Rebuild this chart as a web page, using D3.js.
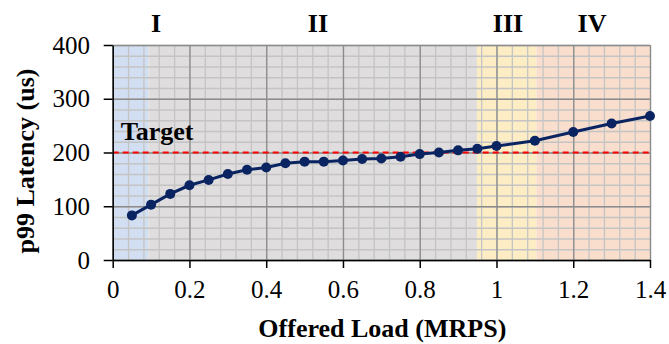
<!DOCTYPE html>
<html>
<head>
<meta charset="utf-8">
<script src="https://cdn.jsdelivr.net/npm/d3@7"></script>
</head>
<body style="margin:0;background:#fff">
<svg id="svg1" width="669" height="344"></svg>
<script>
// offered load (MRPS) and p99 latency (us)
var loads = [0.05, 0.1, 0.15, 0.2, 0.25, 0.3, 0.35, 0.4, 0.45, 0.5, 0.55, 0.6, 0.65, 0.7, 0.75, 0.8, 0.85, 0.9, 0.95, 1.0, 1.1, 1.2, 1.3, 1.4];
var latency = [83, 103, 123, 139, 149, 160, 168, 172, 180, 183, 183, 185, 188, 189, 192, 197, 200, 204, 207, 212, 222, 238, 254, 268];
var regionNames = ["I", "II", "III", "IV"];
var regionStart = [0, 0.093, 0.949, 1.104];
var regionEnd = [0.093, 0.949, 1.104, 1.4];
var regionColors = ["#d2def2", "#dfdddd", "#fdedc4", "#f9decd"];
var xTicks = [0, 0.2, 0.4, 0.6, 0.8, 1, 1.2, 1.4];
var yTicks = [0, 100, 200, 300, 400];
var target = 200;

var FONT = "'Liberation Serif'";

var margin = {left: 112.7, top: 45, right: 19, bottom: 84};
var width = 669 - margin.left - margin.right;
var height = 344 - margin.top - margin.bottom;

var x = d3.scaleLinear().domain([0, 1.4]).range([0, width]);
var y = d3.scaleLinear().domain([0, 400]).range([height, 0]);

var svg = d3.select("#svg1").append("g")
    .attr("transform", "translate(" + margin.left + "," + margin.top + ")");

// shaded regions
svg.selectAll(".region").data(regionNames).enter().append("rect")
    .attr("x", (d, i) => x(regionStart[i]))
    .attr("y", 0)
    .attr("width", (d, i) => x(regionEnd[i]) - x(regionStart[i]))
    .attr("height", height)
    .attr("fill", (d, i) => regionColors[i]);

svg.selectAll(".region-label").data(regionNames).enter().append("text")
    .attr("x", (d, i) => [43.3, 205.3, 395.3, 479.3][i])
    .attr("y", -12.7)
    .attr("text-anchor", "middle")
    .style("font-family", FONT)
    .style("font-size", "26px")
    .style("font-weight", "bold")
    .text(d => d);

// minor grid
svg.append("g")
    .call(d3.axisBottom(x).tickValues(d3.range(0, 1.4001, 0.04)).tickSize(-height).tickFormat(""))
    .attr("transform", "translate(0," + height + ")")
    .call(g => g.select(".domain").remove())
    .call(g => g.selectAll("line").attr("stroke", "#c4c4c4").attr("stroke-width", 1.3));
svg.append("g")
    .call(d3.axisLeft(y).tickValues(d3.range(0, 401, 20)).tickSize(-width).tickFormat(""))
    .call(g => g.select(".domain").remove())
    .call(g => g.selectAll("line").attr("stroke", "#c4c4c4").attr("stroke-width", 1.3));

// major grid
svg.append("g")
    .call(d3.axisBottom(x).tickValues(xTicks).tickSize(-height).tickFormat(""))
    .attr("transform", "translate(0," + height + ")")
    .call(g => g.select(".domain").remove())
    .call(g => g.selectAll("line").attr("stroke", "#8c8c8c").attr("stroke-width", 1.3));
svg.append("g")
    .call(d3.axisLeft(y).tickValues(yTicks).tickSize(-width).tickFormat(""))
    .call(g => g.select(".domain").remove())
    .call(g => g.selectAll("line").attr("stroke", "#8c8c8c").attr("stroke-width", 1.3));

// target line
svg.append("line")
    .attr("x1", 0).attr("x2", width)
    .attr("y1", y(target)).attr("y2", y(target))
    .attr("stroke", "#ff0000")
    .attr("stroke-width", 2)
    .attr("stroke-dasharray", "6,4");
svg.append("text")
    .attr("x", 8)
    .attr("y", y(target) - 13)
    .style("font-family", FONT)
    .style("font-size", "26px")
    .style("font-weight", "bold")
    .text("Target");

// axes
svg.append("g")
    .attr("transform", "translate(0," + height + ")")
    .call(d3.axisBottom(x).tickValues(xTicks).tickSize(8).tickSizeOuter(0).tickPadding(12).tickFormat(d3.format("~g")))
    .attr("font-family", FONT)
    .call(g => g.selectAll("line").attr("stroke", "#000").attr("stroke-width", 1.5))
    .call(g => g.select(".domain").attr("stroke", "#000").attr("stroke-width", 1.5))
    .call(g => g.selectAll("text").style("font-family", FONT).style("font-size", "25px").attr("fill", "#000"));
svg.append("g")
    .call(d3.axisLeft(y).tickValues(yTicks).tickSize(9).tickSizeOuter(0).tickPadding(13.7))
    .attr("font-family", FONT)
    .call(g => g.select(".domain").attr("stroke", "#000").attr("stroke-width", 1.5))
    .call(g => g.selectAll("line").attr("stroke", "#000").attr("stroke-width", 1.5))
    .call(g => g.selectAll("text").style("font-family", FONT).style("font-size", "25px").attr("fill", "#000"));

// series
var line = d3.line().x((d, i) => x(loads[i])).y(d => y(d));
svg.append("path")
    .datum(latency)
    .attr("fill", "none")
    .attr("stroke", "#0a2462")
    .attr("stroke-width", 3)
    .attr("d", line);
svg.selectAll(".pt").data(latency).enter().append("circle")
    .attr("cx", (d, i) => x(loads[i]))
    .attr("cy", d => y(d))
    .attr("r", 5)
    .attr("fill", "#0a2462");

// axis titles
svg.append("text")
    .attr("x", width / 2 + 1)
    .attr("y", height + 76.7)
    .attr("text-anchor", "middle")
    .style("font-family", FONT)
    .style("font-size", "26px")
    .style("font-weight", "bold")
    .text("Offered Load (MRPS)");
svg.append("text")
    .attr("transform", "rotate(-90)")
    .attr("x", -116)
    .attr("y", -79)
    .attr("text-anchor", "middle")
    .style("font-family", FONT)
    .style("font-size", "26px")
    .style("font-weight", "bold")
    .text("p99 Latency (us)");
</script>
</body>
</html>
